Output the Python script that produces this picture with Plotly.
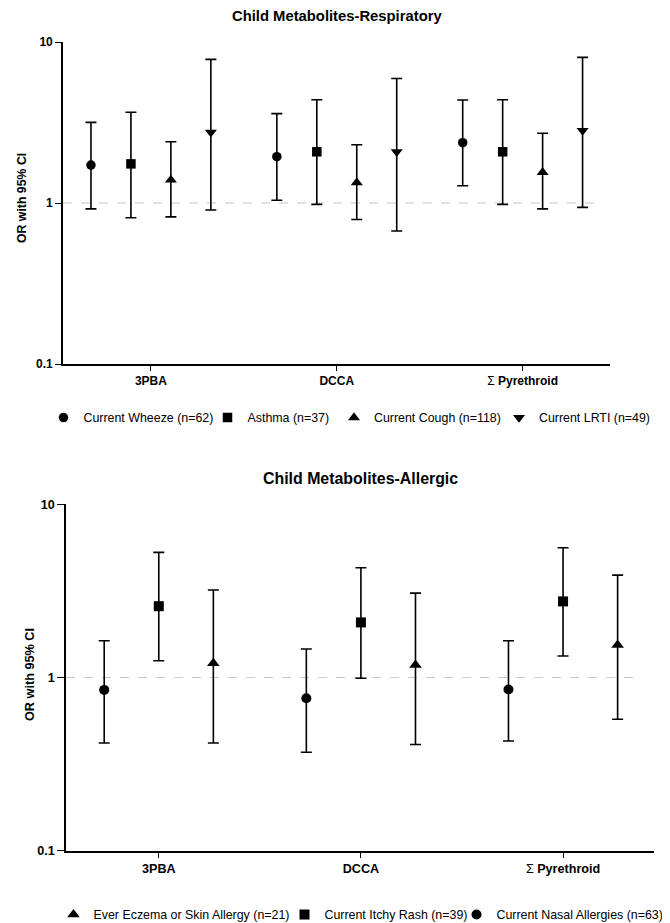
import plotly.graph_objects as go

# ---------------- data ----------------
categories = ["3PBA", "DCCA", "Σ Pyrethroid"]
tick_labels = ["<b>3PBA</b>", "<b>DCCA</b>", "Σ <b>Pyrethroid</b>"]

# Respiratory panel
resp_names = ["Current Wheeze (n=62)", "Asthma (n=37)", "Current Cough (n=118)", "Current LRTI (n=49)"]
resp_symbols = ["circle", "square", "triangle-up", "triangle-down"]
resp_or = [
    [1.72, 1.94, 2.37],
    [1.75, 2.08, 2.08],
    [1.39, 1.34, 1.55],
    [2.75, 2.08, 2.82],
]
resp_lo = [
    [0.92, 1.04, 1.28],
    [0.81, 0.98, 0.98],
    [0.82, 0.79, 0.92],
    [0.905, 0.67, 0.94],
]
resp_hi = [
    [3.17, 3.59, 4.36],
    [3.66, 4.38, 4.38],
    [2.40, 2.30, 2.71],
    [7.8, 5.93, 8.03],
]

# Allergic panel (plot order left->right: circle, square, triangle)
allg_names = ["Current Nasal Allergies (n=63)", "Current Itchy Rash (n=39)", "Ever Eczema or Skin Allergy (n=21)"]
allg_symbols = ["circle", "square", "triangle-up"]
allg_or = [
    [0.848, 0.759, 0.853],
    [2.58, 2.08, 2.75],
    [1.21, 1.18, 1.54],
]
allg_lo = [
    [0.419, 0.37, 0.43],
    [1.25, 0.99, 1.33],
    [0.419, 0.41, 0.574],
]
allg_hi = [
    [1.63, 1.46, 1.63],
    [5.28, 4.30, 5.61],
    [3.20, 3.07, 3.90],
]

# ---------------- layout constants ----------------
W, H = 670, 923
OFF = 8  # page body margin
FONT = "Liberation Sans, Arial, sans-serif"


def px_x(p):
    return (p - OFF) / W


def px_y(p):
    return 1 - (p - OFF) / H


# legend placement (symbol centre, text start, y) in page pixels
resp_leg = [(66, 81, 418), (230, 245, 418), (357, 371, 418), (522, 536, 418)]
allg_leg = [(479, 494, 915), (307, 322, 915), (75, 92, 915)]

fig = go.Figure()
legend_layouts = {}
leg_counter = [0]


def add_panel(names, symbols, ors, los, his, spacing, xa, ya, legpos, msize, fsize):
    n = len(names)
    for i in range(n):
        off = (i - (n - 1) / 2) * spacing
        xs = [c + off for c in range(len(categories))]
        leg_counter[0] += 1
        lname = "legend" if leg_counter[0] == 1 else f"legend{leg_counter[0]}"
        sc, ts, ly = legpos[i]
        legend_layouts[lname] = dict(
            orientation="h", x=px_x((sc + ts) / 2 - 30), y=px_y(ly),
            xanchor="left", yanchor="middle", bgcolor="rgba(0,0,0,0)",
            font=dict(family=FONT, size=fsize, color="black"), borderwidth=0,
        )
        fig.add_trace(go.Scatter(
            x=xs, y=ors[i], mode="markers", name=names[i],
            xaxis=xa, yaxis=ya, legend=lname,
            marker=dict(symbol=symbols[i], size=msize + (1 if "triangle" in symbols[i] else 0),
                        color="black", line=dict(width=0)),
            error_y=dict(type="data", symmetric=False,
                         array=[h - o for h, o in zip(his[i], ors[i])],
                         arrayminus=[o - l for o, l in zip(ors[i], los[i])],
                         color="black", thickness=1.6, width=5.5),
            cliponaxis=False,
        ))


add_panel(resp_names, resp_symbols, resp_or, resp_lo, resp_hi, 0.215, "x", "y", resp_leg, 9.5, 12.4)
add_panel(allg_names, allg_symbols, allg_or, allg_lo, allg_hi, 0.27, "x2", "y2", allg_leg, 10, 12.4)


def xaxis_style(fs, tl):
    return dict(tickvals=[0, 1, 2], ticktext=tick_labels, showgrid=False, zeroline=False,
                showline=True, linecolor="black", linewidth=1.6, ticks="outside",
                ticklen=tl, tickwidth=1.4, tickcolor="black", automargin=False,
                tickfont=dict(family=FONT, size=fs, color="black"))


def yaxis_style(fs, tl):
    return dict(type="log", range=[-1, 1], tickvals=[0.1, 1, 10],
                ticktext=["<b>0.1</b>", "<b>1</b>", "<b>10</b>"],
                showgrid=False, zeroline=False, showline=True, linecolor="black", linewidth=1.6,
                ticks="outside", ticklen=tl, tickwidth=1.4, tickcolor="black", automargin=False,
                tickfont=dict(family=FONT, size=fs, color="black"))


def note(text, x, y, size, angle=0):
    return dict(text=text, x=px_x(x), y=px_y(y), xref="paper", yref="paper",
                xanchor="center", yanchor="middle", textangle=angle, showarrow=False,
                font=dict(family=FONT, size=size, color="black"))


fig.update_layout(
    width=W, height=H, margin=dict(l=0, r=0, t=0, b=0, autoexpand=False),
    paper_bgcolor="white", plot_bgcolor="white",
    font=dict(family=FONT, color="black"),
    xaxis=dict(domain=[px_x(63), px_x(610)], range=[-0.473, 2.47], anchor="y", **xaxis_style(12, 5)),
    yaxis=dict(domain=[px_y(364), px_y(42)], anchor="x", **yaxis_style(12, 6)),
    xaxis2=dict(domain=[px_x(66), px_x(654)], range=[-0.459, 2.45], anchor="y2", **xaxis_style(12.6, 5)),
    yaxis2=dict(domain=[px_y(850.7), px_y(504.3)], anchor="x2", **yaxis_style(12.6, 7)),
    showlegend=True,
    annotations=[
        note("<b>Child Metabolites-Respiratory</b>", 337, 16, 14.8),
        note("<b>Child Metabolites-Allergic</b>", 360, 478, 15.9),
        note("<b>OR with 95% CI</b>", 22, 198, 12.3, -90),
        note("<b>OR with 95% CI</b>", 30, 675, 12.7, -90),
    ],
    shapes=[
        dict(type="line", xref="x domain", yref="y", x0=0, x1=0.975, y0=1, y1=1,
             line=dict(color="#c8c8c8", width=1.2, dash="dash"), layer="below"),
        dict(type="line", xref="x2 domain", yref="y2", x0=0, x1=0.978, y0=1, y1=1,
             line=dict(color="#c8c8c8", width=1.2, dash="dash"), layer="below"),
    ],
    **legend_layouts,
)

fig.write_html("out.html")
